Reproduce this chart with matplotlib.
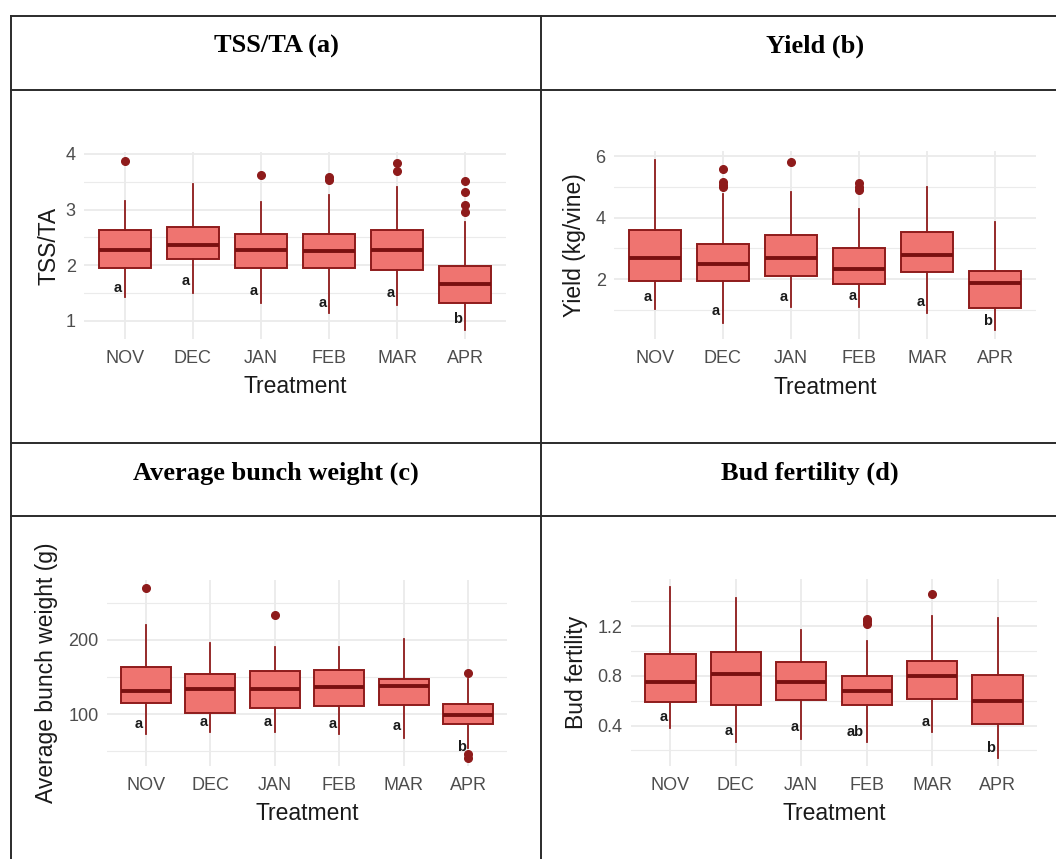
import matplotlib.pyplot as plt
from matplotlib.ticker import FixedLocator
import numpy as np

plt.rcParams['font.family'] = ['Liberation Sans', 'DejaVu Sans']

### Data
months = ['NOV', 'DEC', 'JAN', 'FEB', 'MAR', 'APR']

# (a) TSS/TA
tss_q1 = [1.95, 2.12, 1.95, 1.95, 1.92, 1.33]
tss_med = [2.28, 2.37, 2.28, 2.25, 2.28, 1.66]
tss_q3 = [2.63, 2.69, 2.57, 2.57, 2.63, 1.99]
tss_lo = [1.43, 1.51, 1.32, 1.15, 1.29, 0.84]
tss_hi = [3.16, 3.46, 3.13, 3.26, 3.41, 2.78]
tss_out = [[3.88], [], [3.62], [3.58, 3.53], [3.83, 3.70], [3.51, 3.31, 3.08, 2.96]]
tss_let = ['a', 'a', 'a', 'a', 'a', 'b']
tss_let_y = [1.60, 1.72, 1.53, 1.33, 1.50, 1.03]

# (b) Yield
yld_q1 = [1.93, 1.93, 2.10, 1.84, 2.24, 1.05]
yld_med = [2.69, 2.50, 2.69, 2.33, 2.79, 1.88]
yld_q3 = [3.58, 3.13, 3.43, 3.02, 3.53, 2.25]
yld_lo = [1.02, 0.58, 1.09, 1.09, 0.88, 0.33]
yld_hi = [5.87, 4.77, 4.84, 4.28, 4.99, 3.85]
yld_out = [[], [5.58, 5.15, 5.05, 4.98], [5.79], [5.11, 5.00, 4.88], [], []]
yld_let = ['a', 'a', 'a', 'a', 'a', 'b']
yld_let_y = [1.40, 0.96, 1.40, 1.46, 1.26, 0.64]

# (c) Average bunch weight
abw_q1 = [114.8, 102.2, 109.0, 111.2, 112.6, 87.4]
abw_med = [131.4, 134.1, 134.1, 136.3, 137.7, 99.6]
abw_q3 = [164.1, 153.8, 158.3, 160.1, 147.5, 113.5]
abw_lo = [74.0, 76.2, 76.2, 74.0, 67.7, 54.0]
abw_hi = [220.2, 196.4, 190.1, 190.1, 200.9, 147.5]
abw_out = [[270], [], [234], [], [], [155.6, 46.2, 41.7]]
abw_let = ['a', 'a', 'a', 'a', 'a', 'b']
abw_let_y = [87, 89, 89, 87, 83.5, 56.5]

# (d) Bud fertility
bud_q1 = [0.590, 0.563, 0.603, 0.566, 0.617, 0.413]
bud_med = [0.750, 0.817, 0.750, 0.676, 0.801, 0.598]
bud_q3 = [0.973, 0.989, 0.911, 0.796, 0.922, 0.804]
bud_lo = [0.384, 0.269, 0.296, 0.269, 0.347, 0.143]
bud_hi = [1.510, 1.422, 1.168, 1.080, 1.283, 1.267]
bud_out = [[], [], [], [1.26, 1.24, 1.22], [1.454], []]
bud_let = ['a', 'a', 'a', 'ab', 'a', 'b']
bud_let_y = [0.467, 0.357, 0.392, 0.352, 0.432, 0.223]

### Layout (pixels)
W, H = 1056, 859
fill = '#EF7470'
edge = '#8E1B1B'
dark = '#7A1010'

fig = plt.figure(figsize=(W / 100, H / 100), dpi=100)

# table frame + headers
tab = fig.add_axes([0, 0, 1, 1])
tab.set_xlim(0, W)
tab.set_ylim(H, 0)
tab.axis('off')
lc = '#2b2b2b'
for yy in [16, 90, 443, 516]:
    tab.plot([11, W], [yy, yy], color=lc, lw=1.4)
for xx in [11, 541]:
    tab.plot([xx, xx], [16, H], color=lc, lw=1.4)

headers = [('TSS/TA (a)', 276, 53), ('Yield (b)', 815, 53),
           ('Average bunch weight (c)', 276, 480), ('Bud fertility (d)', 810, 480)]
for txt, hx, hy in headers:
    tab.text(hx, hy, txt, ha='center', va='baseline', fontsize=19,
             fontweight='bold', family='Liberation Serif', color='black')


def panel(box, ylim, yticks, yminor, ylabel, ylab_x, q1, med, q3, lo, hi, out,
          let, let_y, fmt='{:g}'):
    left, top, right, bottom = box
    ax = fig.add_axes([left / W, 1 - bottom / H, (right - left) / W, (bottom - top) / H])
    stats = [dict(q1=q1[i], med=med[i], q3=q3[i], whislo=lo[i], whishi=hi[i],
                  fliers=out[i]) for i in range(len(months))]
    pos = np.arange(len(months))
    ax.bxp(stats, positions=pos, widths=0.77, patch_artist=True, showcaps=False,
           boxprops=dict(facecolor=fill, edgecolor=edge, linewidth=1.4),
           medianprops=dict(color=dark, linewidth=2.8),
           whiskerprops=dict(color=edge, linewidth=1.3),
           flierprops=dict(marker='o', markerfacecolor=edge, markeredgecolor=edge,
                           markersize=5.5))
    for i in range(len(months)):
        ax.text(pos[i] - 0.04, let_y[i], let[i], ha='right', va='center',
                fontsize=10.5, fontweight='bold', color='#1a1a1a')
    ax.set_xlim(-0.6, len(months) - 0.4)
    ax.set_ylim(*ylim)
    ax.set_xticks(pos)
    ax.set_xticklabels(months)
    ax.set_yticks(yticks)
    ax.set_yticklabels([fmt.format(t) for t in yticks])
    ax.yaxis.set_minor_locator(FixedLocator(yminor))
    ax.set_axisbelow(True)
    ax.grid(which='major', color='#EBEBEB', linewidth=1.3)
    ax.grid(which='minor', axis='y', color='#EBEBEB', linewidth=0.8)
    for s in ax.spines.values():
        s.set_visible(False)
    ax.tick_params(which='both', length=0, labelsize=13, colors='#4D4D4D')
    ax.tick_params(axis='x', pad=8)
    ax.tick_params(axis='y', pad=6)
    # axis titles
    xc = (left + right) / 2
    tab.text(xc, bottom + 48, 'Treatment', ha='center', va='center',
             fontsize=16.5, color='#1A1A1A')
    tab.text(ylab_x, (top + bottom) / 2, ylabel, ha='center', va='center',
             rotation=90, fontsize=16.5, color='#1A1A1A')
    return ax


panel((84, 152.3, 506, 338.8), (0.68, 4.03), [1, 2, 3, 4], [1.5, 2.5, 3.5],
      'TSS/TA', 49, tss_q1, tss_med, tss_q3, tss_lo, tss_hi, tss_out, tss_let, tss_let_y)
panel((614, 151.4, 1036, 339), (0.05, 6.15), [2, 4, 6], [1, 3, 5],
      'Yield (kg/vine)', 575, yld_q1, yld_med, yld_q3, yld_lo, yld_hi, yld_out, yld_let, yld_let_y)
panel((107, 579.5, 507, 766), (30.3, 281.4), [100, 200], [50, 150, 250],
      'Average bunch weight (g)', 47, abw_q1, abw_med, abw_q3, abw_lo, abw_hi, abw_out, abw_let, abw_let_y)
panel((631, 579, 1037, 766), (0.075, 1.578), [0.4, 0.8, 1.2], [0.2, 0.6, 1.0, 1.4],
      'Bud fertility', 577, bud_q1, bud_med, bud_q3, bud_lo, bud_hi, bud_out, bud_let, bud_let_y,
      fmt='{:.1f}')

fig.savefig('out.png', dpi=100)
